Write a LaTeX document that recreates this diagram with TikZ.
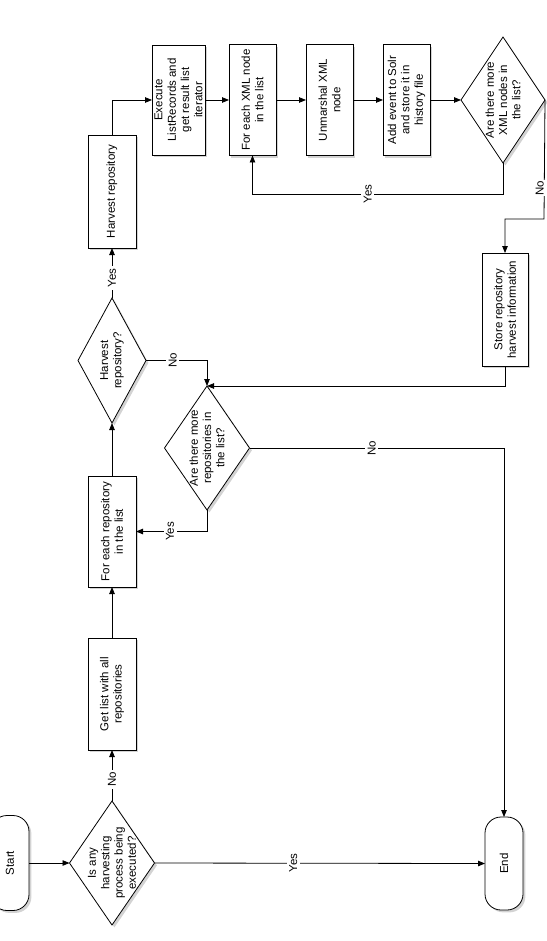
\documentclass[tikz,border=0pt]{standalone}
\usepackage{fontspec}
\setmainfont{Liberation Sans}
\usetikzlibrary{shapes.geometric,arrows.meta,shadows}
\begin{document}
\begin{tikzpicture}[x=1pt,y=-1pt,
  every node/.style={font=\fontsize{11.5}{13.3}\selectfont},
  shp/.style={draw=black, line width=0.8pt, fill=white, inner sep=0pt, outer sep=0pt,
    drop shadow={shadow xshift=2.4pt,shadow yshift=-2.4pt,opacity=0.35}},
  proc/.style={shp, rectangle},
  term/.style={shp, rectangle, rounded corners=16pt},
  dec/.style={shp, diamond},
  txt/.style={rotate=90, align=center, inner sep=0pt},
  conn/.style={draw=black, line width=0.8pt, -{Triangle[length=7pt,width=5.5pt]}},
  lab/.style={rotate=90, fill=white, inner sep=2.5pt}]
\useasboundingbox (0,0) rectangle (546,941);

% shapes
\node[term, minimum width=38pt, minimum height=95pt] (start) at (10,863) {};
\node[txt] (startt) at (start) {Start};
\node[dec, minimum width=85pt, minimum height=124pt] (d1) at (112,863) {};
\node[txt] (d1t) at (d1) {Is any\\harvesting\\process being\\executed?};
\node[proc, minimum width=48pt, minimum height=112pt] (getlist) at (112,694) {};
\node[txt] (getlistt) at (getlist) {Get list with all\\repositories};
\node[proc, minimum width=48pt, minimum height=111pt] (foreach) at (112,531.5) {};
\node[txt] (foreacht) at (foreach) {For each repository\\in the list};
\node[dec, minimum width=68pt, minimum height=125pt] (d2) at (112,360.5) {};
\node[txt] (d2t) at (d2) {Harvest\\repository?};
\node[proc, minimum width=48pt, minimum height=113pt] (harvest) at (112,191.5) {};
\node[txt] (harvestt) at (harvest) {Harvest repository};
\node[proc, minimum width=53pt, minimum height=110pt] (exec) at (178.5,100) {};
\node[txt] (exect) at (exec) {Execute\\ListRecords and\\get result list\\iterator};
\node[proc, minimum width=47pt, minimum height=111pt] (forxml) at (252.5,100) {};
\node[txt] (forxmlt) at (forxml) {For each XML node\\in the list};
\node[proc, minimum width=47pt, minimum height=111pt] (unm) at (329.5,100) {};
\node[txt] (unmt) at (unm) {Unmarshal XML\\node};
\node[proc, minimum width=47pt, minimum height=111pt] (add) at (406.5,100) {};
\node[txt] (addt) at (add) {Add event to Solr\\and store it in\\history file};
\node[dec, minimum width=84pt, minimum height=126pt] (d3) at (503,100) {};
\node[txt] (d3t) at (d3) {Are there more\\XML nodes in\\the list?};
\node[proc, minimum width=46pt, minimum height=113pt] (store) at (505,309.5) {};
\node[txt] (storet) at (store) {Store repository\\harvest information};
\node[dec, minimum width=85pt, minimum height=124pt] (d4) at (207,448) {};
\node[txt] (d4t) at (d4) {Are there more\\repositories in\\the list?};
\node[term, minimum width=38pt, minimum height=93pt] (end) at (504,863.5) {};
\node[txt] (endt) at (end) {End};

% connectors
\draw[conn] (start.east) -- (d1.west);
\draw[conn] (d1.north) -- node[lab,pos=0.42] (l1) {No} (getlist.south);
\draw[conn] (d1.east) -- node[lab,pos=0.42] (l2) {Yes} (end.west);
\draw[conn] (getlist.north) -- (foreach.south);
\draw[conn] (foreach.north) -- (d2.south);
\draw[conn] (d2.north) -- node[lab,pos=0.4] (l3) {Yes} (harvest.south);
\draw[conn] (harvest.north) |- (exec.west);
\draw[conn] (exec.east) -- (forxml.west);
\draw[conn] (forxml.east) -- (unm.west);
\draw[conn] (unm.east) -- (add.west);
\draw[conn] (add.east) -- (d3.west);
\coordinate (c3) at (503,194);
\draw[conn] (d3.south) -- (c3) -- node[lab,pos=0.54] (l4) {Yes} (c3 -| forxml.south) -- (forxml.south);
\coordinate (c4) at (544,219);
\draw[conn] (d3.east) -- (c4) -- (c4 -| store.north) -- (store.north);
\node[lab, inner sep=1pt, anchor=south] (l5) at (545,188) {No};
\draw[conn] (store.south) |- (d4.north);
\draw[conn] (d2.east) -| node[lab,pos=0.22] (l6) {No} (d4.north);
\draw[conn] (d4.south) |- node[lab,pos=0.76] (l7) {Yes} (foreach.east);
\draw[conn] (d4.east) -| node[lab,pos=0.24] (l8) {No} (end.north);
\end{tikzpicture}
\end{document}
